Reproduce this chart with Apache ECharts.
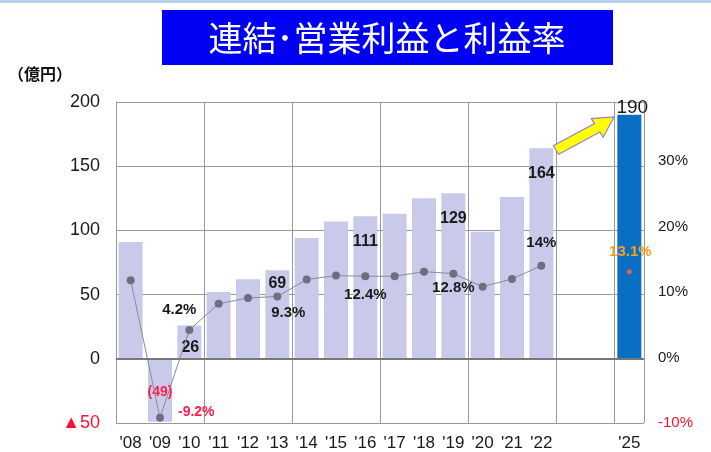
<!DOCTYPE html>
<html><head><meta charset="utf-8">
<script src="https://cdn.jsdelivr.net/npm/echarts@6/dist/echarts.min.js"></script>
<style>html,body{margin:0;padding:0;background:#fff}#c{width:711px;height:452px}</style>
</head><body><div id="c"></div>
<script>
const years = ["'08","'09","'10","'11","'12","'13","'14","'15","'16","'17","'18","'19","'20","'21","'22","'23","'24","'25"];
const profit = [91, -49, 26, 52, 62, 69, 94, 107, 111, 113, 125, 129, 99, 126, 164, null, null, 190];
const margin = [11.8, -9.2, 4.2, 8.2, 9.1, 9.3, 11.9, 12.5, 12.4, 12.4, 13.1, 12.8, 10.8, 12.0, 14.0, null, null, 13.1];
const profitLabels = {1: '(49)', 2: '26', 5: '69', 8: '111', 11: '129', 14: '164', 17: '190'};
const marginLabels = {1: '-9.2%', 2: '4.2%', 5: '9.3%', 8: '12.4%', 11: '12.8%', 14: '14%', 17: '13.1%'};
const leftTicks = [-50, 0, 50, 100, 150, 200];
const rightTicks = [-10, 0, 10, 20, 30];

const FONT = "'Liberation Sans Narrow','Liberation Sans',sans-serif";

const barLabelStyle = {
  1: {position: 'inside', offset: [0, 2], color: '#ff2050', fontSize: 14, fontWeight: 'bold'},
  2: {position: 'inside', offset: [1, 5]},
  5: {position: 'insideTop', offset: [0, 0]},
  8: {position: 'insideTop', offset: [0, 12]},
  11: {position: 'insideTop', offset: [0, 12]},
  14: {position: 'insideTop', offset: [0, 12]},
  17: {position: 'top', distance: 0, fontSize: 19, fontWeight: 'normal', offset: [3, 2]}
};
const lineLabelStyle = {
  1: {position: 'right', distance: 8, offset: [6, -6], color: '#ff2050', fontSize: 14},
  2: {position: 'top', offset: [-10, -4]},
  5: {position: 'bottom', offset: [11, 0]},
  8: {position: 'bottom', offset: [0, 2]},
  11: {position: 'bottom', offset: [0, -2]},
  14: {position: 'top', offset: [0, -6]},
  17: {position: 'top', offset: [1, -5], color: '#f5a020', fontSize: 15}
};

const barData = profit.map((v, i) => {
  const item = {value: v, itemStyle: {color: i === 17 ? '#0a6fc2' : '#c9cae9'}};
  if (profitLabels[i]) {
    item.label = Object.assign({show: true, formatter: profitLabels[i], color: '#1a1a1a', fontSize: 16, fontWeight: 'bold', fontFamily: FONT}, barLabelStyle[i]);
  }
  return item;
});
const lineData = margin.map((v, i) => {
  const item = {value: v};
  if (i === 17) item.itemStyle = {color: '#e06050'}, item.symbolSize = 5;
  if (marginLabels[i]) {
    item.label = Object.assign({show: true, formatter: marginLabels[i], color: '#1a1a1a', fontSize: 15, fontWeight: 'bold', fontFamily: FONT}, lineLabelStyle[i]);
  }
  return item;
});

const chart = echarts.init(document.getElementById('c'), null, {renderer: 'canvas'});
chart.setOption({
  animation: false,
  backgroundColor: '#fff',
  grid: {left: 116, right: 67, top: 102, bottom: 29},
  xAxis: {
    type: 'category', data: years, boundaryGap: true,
    axisLine: {show: true, lineStyle: {color: '#999', width: 1}},
    axisTick: {show: false},
    axisLabel: {interval: 0, color: '#1a1a1a', fontSize: 17, fontFamily: FONT, margin: 12,
      formatter: v => (v === "'23" || v === "'24") ? '' : v},
    splitLine: {show: true, interval: 2, lineStyle: {color: '#999', width: 1}}
  },
  yAxis: [{
    type: 'value', min: leftTicks[0], max: leftTicks[leftTicks.length - 1], interval: 50,
    axisLine: {show: true, lineStyle: {color: '#999'}},
    axisTick: {show: false},
    splitLine: {show: true, lineStyle: {color: '#999', width: 1}},
    axisLabel: {margin: 16, fontSize: 18, fontFamily: FONT,
      formatter: v => v < 0 ? '▲' + (-v) : String(v),
      color: v => (Number(v) < 0 ? '#ff1030' : '#1a1a1a')}
  }, {
    type: 'value', min: rightTicks[0], max: 39, interval: 10,
    axisLine: {show: false}, axisTick: {show: false}, splitLine: {show: false},
    axisLabel: {margin: 14, fontSize: 15, fontFamily: FONT, showMaxLabel: false,
      formatter: v => rightTicks.indexOf(v) >= 0 ? v + '%' : '',
      color: v => (Number(v) < 0 ? '#ff1030' : '#1a1a1a')}
  }],
  series: [{
    type: 'bar', data: barData, barWidth: 24, yAxisIndex: 0, z: 2,
    markLine: {silent: true, symbol: 'none', label: {show: false},
      lineStyle: {color: '#777', width: 2, type: 'solid'}, data: [{yAxis: 0}]}
  }, {
    type: 'line', data: lineData, yAxisIndex: 1, z: 4, connectNulls: false,
    symbol: 'circle', symbolSize: 8,
    itemStyle: {color: '#6e6e80'},
    lineStyle: {color: '#8a8a96', width: 1}
  }],
  graphic: [
    {type: 'rect', left: 0, top: 0, shape: {width: 711, height: 3}, style: {fill: '#b9d0ee'}},
    {type: 'rect', shape: {x: 162, y: 10, width: 451, height: 55}, style: {fill: '#0000f5'}},
    {type: 'text', x: 387, y: 38, style: {text: '連結･営業利益と利益率', fill: '#fff', fontSize: 34,
      fontFamily: "'Noto Sans CJK JP'", align: 'center', verticalAlign: 'middle'}},
    {type: 'text', x: 8, y: 74, style: {text: '（億円）', fill: '#111', fontSize: 16, fontWeight: 'bold',
      fontFamily: "'Noto Sans CJK JP'", verticalAlign: 'middle'}},
    {type: 'polygon', z: 10, shape: {points: [[558.7,154.2],[599.9,132],[603.1,137.2],[614,117],[591.3,118.6],[594.5,123.6],[553.3,145.8]]},
      style: {fill: '#ffff00', stroke: '#9a7ae0', lineWidth: 1.2}}
  ]
});
</script></body></html>
